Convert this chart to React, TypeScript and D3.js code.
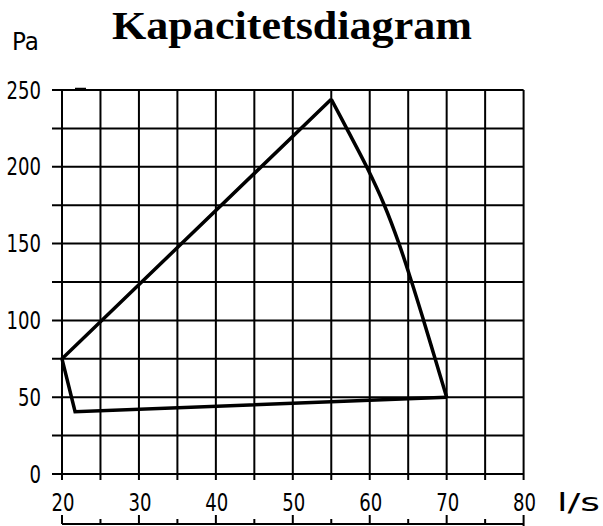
import { useRef, useEffect } from 'react';
import * as d3 from 'd3';

// flow in l/s, pressure in Pa
const xTicks = [20, 30, 40, 50, 60, 70, 80];
const xGrid = [20, 25, 30, 35, 40, 45, 50, 55, 60, 65, 70, 75, 80];
const yTicks = [0, 50, 100, 150, 200, 250];
const yGrid = [0, 25, 50, 75, 100, 125, 150, 175, 200, 225, 250];

// straight edges of the working area
const edgeFlow = [70, 21.7, 20, 55];
const edgePressure = [50, 40.5, 75, 244];

// fan curve, right side of the area
const curveFlow = [55, 57, 59.6, 61.9, 63.8, 65.45, 67, 68.5, 70];
const curvePressure = [244, 225, 200, 175, 150, 125, 100, 75, 50];

const W = 603;
const H = 526;
const labelFont = "'DejaVu Sans', sans-serif";

export default function App() {
    const svgRef = useRef<SVGSVGElement | null>(null);

    useEffect(() => {
        if (!svgRef.current) return;
        const svg = d3.select(svgRef.current);
        svg.selectAll("*").remove();

        const x = d3.scaleLinear().domain([20, 80]).range([62, 523.6]);
        const y = d3.scaleLinear().domain([0, 250]).range([474, 90]);

        svg.append("rect").attr("width", W).attr("height", H).attr("fill", "#fff");

        // title
        svg.append("text")
            .attr("x", 112)
            .attr("y", 39)
            .attr("textLength", 360)
            .attr("lengthAdjust", "spacingAndGlyphs")
            .style("font-family", "'Liberation Serif', 'Times New Roman', serif")
            .style("font-weight", "bold")
            .style("font-size", "40px")
            .text("Kapacitetsdiagram");

        const grid = svg.append("g").attr("stroke", "#000").attr("stroke-width", 2);

        // horizontal grid lines with a tick to the left
        grid.selectAll(".h")
            .data(yGrid)
            .join("line")
            .attr("class", "h")
            .attr("x1", x(20) - 10)
            .attr("x2", x(80))
            .attr("y1", d => y(d))
            .attr("y2", d => y(d));

        // vertical grid lines with a tick below
        grid.selectAll(".v")
            .data(xGrid)
            .join("line")
            .attr("class", "v")
            .attr("x1", d => x(d))
            .attr("x2", d => x(d))
            .attr("y1", y(250))
            .attr("y2", y(0) + 6);

        // lower scale bar
        const bar = svg.append("g").attr("stroke", "#000").attr("stroke-width", 2);
        bar.append("line")
            .attr("x1", x(20)).attr("x2", x(80))
            .attr("y1", 524).attr("y2", 524);
        bar.selectAll(".bt")
            .data(xGrid)
            .join("line")
            .attr("class", "bt")
            .attr("x1", d => x(d))
            .attr("x2", d => x(d))
            .attr("y1", d => (xTicks.includes(d) ? 515 : 519))
            .attr("y2", d => (d === 80 ? 527 : 524));

        // small mark near the top
        svg.append("line")
            .attr("x1", 75).attr("x2", 86)
            .attr("y1", 89).attr("y2", 89)
            .attr("stroke", "#000").attr("stroke-width", 2.5);

        // y labels
        svg.selectAll(".yl")
            .data(yTicks)
            .join("text")
            .attr("class", "yl")
            .attr("x", 41)
            .attr("y", d => y(d) + 8.5)
            .attr("text-anchor", "end")
            .attr("textLength", d => String(d).length * 11.5)
            .attr("lengthAdjust", "spacingAndGlyphs")
            .style("font-family", labelFont)
            .style("font-size", "24px")
            .text(d => d);

        // x labels
        svg.selectAll(".xl")
            .data(xTicks)
            .join("text")
            .attr("class", "xl")
            .attr("x", d => x(d) + 1)
            .attr("y", 511)
            .attr("text-anchor", "middle")
            .attr("textLength", 23)
            .attr("lengthAdjust", "spacingAndGlyphs")
            .style("font-family", labelFont)
            .style("font-size", "24px")
            .text(d => d);

        // units
        svg.append("text")
            .attr("x", 12).attr("y", 50)
            .attr("textLength", 27)
            .attr("lengthAdjust", "spacingAndGlyphs")
            .style("font-family", labelFont)
            .style("font-size", "24px")
            .text("Pa");
        svg.append("text")
            .attr("x", 557).attr("y", 511)
            .attr("textLength", 43)
            .attr("lengthAdjust", "spacingAndGlyphs")
            .style("font-family", labelFont)
            .style("font-size", "24px")
            .text("l/s");

        // working area outline
        const edge = d3.line<number>()
            .x((_, i) => x(edgeFlow[i]))
            .y((_, i) => y(edgePressure[i]));
        svg.append("path")
            .attr("d", edge(edgeFlow))
            .attr("fill", "none")
            .attr("stroke", "#000")
            .attr("stroke-width", 3.5)
            .attr("stroke-linejoin", "miter");

        const curve = d3.line<number>()
            .x((_, i) => x(curveFlow[i]))
            .y((_, i) => y(curvePressure[i]))
            .curve(d3.curveCatmullRom.alpha(0.5));
        svg.append("path")
            .attr("d", curve(curveFlow))
            .attr("fill", "none")
            .attr("stroke", "#000")
            .attr("stroke-width", 3.5)
            .attr("stroke-linejoin", "miter");
    }, []);

    return (
        <svg
            ref={svgRef}
            width={W}
            height={H}
            style={{ position: "absolute", left: 0, top: 0 }}
        />
    );
}
